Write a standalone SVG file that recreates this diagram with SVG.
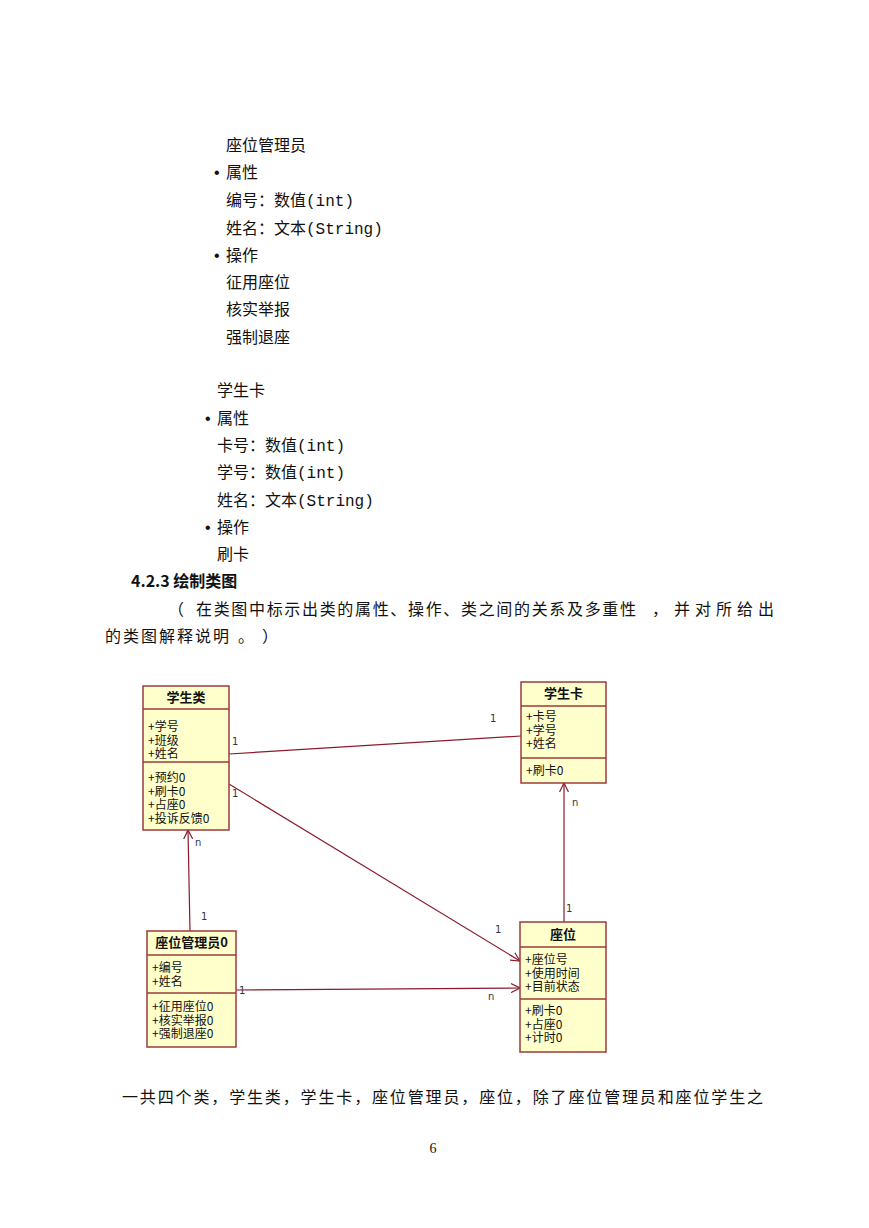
<svg xmlns="http://www.w3.org/2000/svg" width="869" height="1228" viewBox="0 0 869 1228">
<style>
.doc{font-family:"Liberation Mono","Noto Sans CJK SC",monospace;font-size:16px;fill:#111}
.cjk{font-family:"Noto Sans CJK SC",sans-serif;font-size:16px;fill:#111}
.box{fill:#FFFFCC;stroke:#9A3B3B;stroke-width:1.5}
.div{stroke:#9A3B3B;stroke-width:1.5}
.t{font-family:"Noto Sans CJK SC",sans-serif;font-size:12px;fill:#111}
.tt{font-family:"Noto Sans CJK SC",sans-serif;font-size:13px;font-weight:bold;fill:#111;text-anchor:middle}
.con{stroke:#8B1A2B;stroke-width:1.2;fill:none}
.lbl{font-family:"DejaVu Sans",sans-serif;font-size:10px;fill:#333}
</style>
<defs>
<marker id="open" viewBox="0 0 10 10" refX="9" refY="5" markerWidth="10" markerHeight="10" markerUnits="userSpaceOnUse" orient="auto">
<path d="M0,0.5 L9,5 L0,9.5" fill="none" stroke="#8B1A2B" stroke-width="1.2"/>
</marker>
</defs>
<rect width="869" height="1228" fill="#fff"/>
<g id="text-top">
<text class="doc" x="226" y="151">座位管理员</text>
<text class="doc" x="212" y="178">•</text><text class="doc" x="226" y="178">属性</text>
<text class="doc" x="226" y="206">编号：数值(int)</text>
<text class="doc" x="226" y="234">姓名：文本(String)</text>
<text class="doc" x="212" y="261">•</text><text class="doc" x="226" y="261">操作</text>
<text class="doc" x="226" y="288">征用座位</text>
<text class="doc" x="226" y="315">核实举报</text>
<text class="doc" x="226" y="343">强制退座</text>
<text class="doc" x="217" y="396">学生卡</text>
<text class="doc" x="203" y="424">•</text><text class="doc" x="217" y="424">属性</text>
<text class="doc" x="217" y="451">卡号：数值(int)</text>
<text class="doc" x="217" y="478">学号：数值(int)</text>
<text class="doc" x="217" y="506">姓名：文本(String)</text>
<text class="doc" x="203" y="533">•</text><text class="doc" x="217" y="533">操作</text>
<text class="doc" x="217" y="560">刷卡</text>
<text class="cjk" x="131" y="587" font-weight="bold">4.2.3 绘制类图</text>
<text class="cjk" x="168" y="615">（</text>
<text class="cjk" x="196" y="615" textLength="440" lengthAdjust="spacing">在类图中标示出类的属性、操作、类之间的关系及多重性</text>
<text class="cjk" x="652" y="615">，</text>
<text class="cjk" x="674" y="615" textLength="100" lengthAdjust="spacing">并对所给出</text>
<text class="cjk" x="105" y="642" textLength="124" lengthAdjust="spacing">的类图解释说明</text>
<text class="cjk" x="238" y="642">。</text>
<text class="cjk" x="262" y="642">）</text>
<text class="cjk" x="122" y="1103" textLength="641" lengthAdjust="spacing">一共四个类，学生类，学生卡，座位管理员，座位，除了座位管理员和座位学生之</text>
<text x="433" y="1153" font-family="Liberation Serif" font-size="14" fill="#111" text-anchor="middle">6</text>
</g>
<g id="connectors">
<line class="con" x1="229" y1="754" x2="521" y2="736"/>
<line class="con" x1="229" y1="784" x2="520" y2="961" marker-end="url(#open)"/>
<line class="con" x1="236" y1="990" x2="520" y2="988" marker-end="url(#open)"/>
<line class="con" x1="190" y1="931" x2="188" y2="830" marker-end="url(#open)"/>
<line class="con" x1="564" y1="922" x2="564" y2="783" marker-end="url(#open)"/>
<text class="lbl" x="232" y="745">1</text>
<text class="lbl" x="490" y="722">1</text>
<text class="lbl" x="232" y="797">1</text>
<text class="lbl" x="495" y="933">1</text>
<text class="lbl" x="239" y="994">1</text>
<text class="lbl" x="488" y="1000">n</text>
<text class="lbl" x="195" y="846">n</text>
<text class="lbl" x="201" y="920">1</text>
<text class="lbl" x="572" y="806">n</text>
<text class="lbl" x="566" y="912">1</text>
</g>
<g id="node-student">
<rect class="box" x="143" y="686" width="86" height="144"/>
<line class="div" x1="143" y1="709" x2="229" y2="709"/>
<line class="div" x1="143" y1="762" x2="229" y2="762"/>
<text class="tt" x="186" y="702">学生类</text>
<text class="t" x="148" y="731">+学号</text>
<text class="t" x="148" y="744.5">+班级</text>
<text class="t" x="148" y="758">+姓名</text>
<text class="t" x="148" y="782">+预约0</text>
<text class="t" x="148" y="795.5">+刷卡0</text>
<text class="t" x="148" y="809">+占座0</text>
<text class="t" x="148" y="822.5">+投诉反馈0</text>
</g>
<g id="node-card">
<rect class="box" x="521" y="682" width="85" height="101"/>
<line class="div" x1="521" y1="706" x2="606" y2="706"/>
<line class="div" x1="521" y1="758" x2="606" y2="758"/>
<text class="tt" x="563.5" y="698">学生卡</text>
<text class="t" x="526" y="721">+卡号</text>
<text class="t" x="526" y="734.5">+学号</text>
<text class="t" x="526" y="748">+姓名</text>
<text class="t" x="526" y="775">+刷卡0</text>
</g>
<g id="node-admin">
<rect class="box" x="147" y="931" width="89" height="116"/>
<line class="div" x1="147" y1="955" x2="236" y2="955"/>
<line class="div" x1="147" y1="993" x2="236" y2="993"/>
<text class="tt" x="191.5" y="947">座位管理员0</text>
<text class="t" x="152" y="972">+编号</text>
<text class="t" x="152" y="985.5">+姓名</text>
<text class="t" x="152" y="1011">+征用座位0</text>
<text class="t" x="152" y="1024.5">+核实举报0</text>
<text class="t" x="152" y="1038">+强制退座0</text>
</g>
<g id="node-seat">
<rect class="box" x="520" y="922" width="86" height="130"/>
<line class="div" x1="520" y1="947" x2="606" y2="947"/>
<line class="div" x1="520" y1="999" x2="606" y2="999"/>
<text class="tt" x="563" y="939">座位</text>
<text class="t" x="525" y="964">+座位号</text>
<text class="t" x="525" y="977.5">+使用时间</text>
<text class="t" x="525" y="991">+目前状态</text>
<text class="t" x="525" y="1015">+刷卡0</text>
<text class="t" x="525" y="1028.5">+占座0</text>
<text class="t" x="525" y="1042">+计时0</text>
</g>
</svg>
